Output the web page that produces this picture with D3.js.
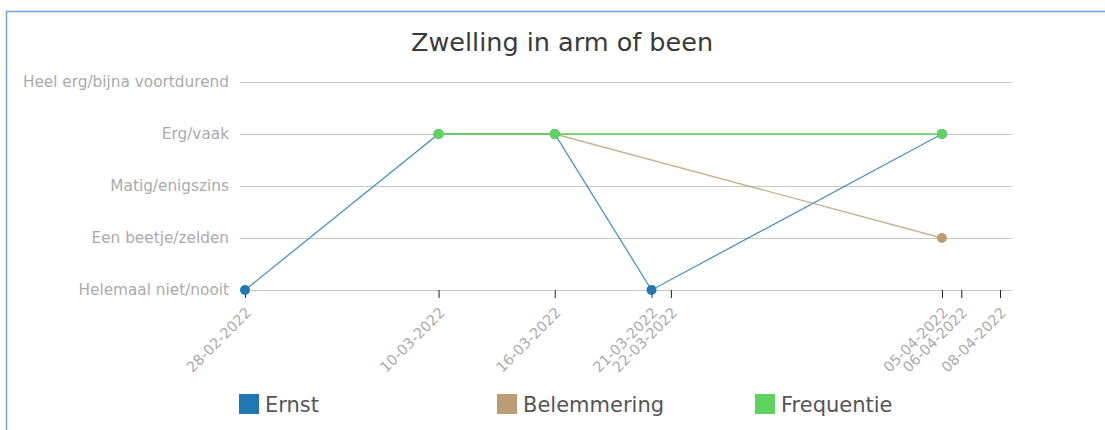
<!DOCTYPE html>
<html>
<head>
<meta charset="utf-8">
<script src="https://cdn.jsdelivr.net/npm/d3@7"></script>
<style>
  body { margin: 0; background: #fff; font-family: "DejaVu Sans", sans-serif; }
  svg { display: block; }
</style>
</head>
<body>
<script>
// data
var levels = ["Helemaal niet/nooit", "Een beetje/zelden", "Matig/enigszins", "Erg/vaak", "Heel erg/bijna voortdurend"];
var tickDates = ["28-02-2022", "10-03-2022", "16-03-2022", "21-03-2022", "22-03-2022", "05-04-2022", "06-04-2022", "08-04-2022"];

var ernstDates = ["28-02-2022", "10-03-2022", "16-03-2022", "21-03-2022", "05-04-2022"];
var ernstValues = ["Helemaal niet/nooit", "Erg/vaak", "Erg/vaak", "Helemaal niet/nooit", "Erg/vaak"];

var belemmeringDates = ["10-03-2022", "16-03-2022", "05-04-2022"];
var belemmeringValues = ["Erg/vaak", "Erg/vaak", "Een beetje/zelden"];

var frequentieDates = ["10-03-2022", "16-03-2022", "05-04-2022"];
var frequentieValues = ["Erg/vaak", "Erg/vaak", "Erg/vaak"];

var seriesNames = ["Ernst", "Belemmering", "Frequentie"];
var seriesColors = ["#1f77b4", "#bc9c74", "#5fd35f"];

var width = 1105, height = 430;
var parse = d3.timeParse("%d-%m-%Y");
var fmt = d3.timeFormat("%d-%m-%Y");

var series = [
  { name: seriesNames[0], dates: ernstDates, values: ernstValues },
  { name: seriesNames[1], dates: belemmeringDates, values: belemmeringValues },
  { name: seriesNames[2], dates: frequentieDates, values: frequentieValues }
].map(function(s) {
  return { name: s.name, points: s.dates.map(function(d, i) { return { date: parse(d), level: s.values[i] }; }) };
});

var svg = d3.select("body").append("svg")
    .attr("width", width)
    .attr("height", height);

// frame
svg.append("path")
    .attr("d", "M6.5," + height + "V11.5H" + width)
    .attr("fill", "none")
    .attr("stroke", "#6ca6d9")
    .attr("stroke-width", 1.5);

var plotLeft = 240, plotRight = 1012;

var x = d3.scaleTime()
    .domain([parse(tickDates[0]), parse(tickDates[tickDates.length - 1])])
    .range([245, 1000]);

var y = d3.scalePoint()
    .domain(levels)
    .range([290, 82]);

var color = d3.scaleOrdinal().domain(seriesNames).range(seriesColors);

// title
svg.append("text")
    .attr("x", 562)
    .attr("y", 51)
    .attr("text-anchor", "middle")
    .style("font-size", "25.5px")
    .style("fill", "#3a3a3a")
    .text("Zwelling in arm of been");

// y axis with grid
var yAxis = svg.append("g")
    .attr("transform", "translate(" + plotLeft + ",0)")
    .call(d3.axisLeft(y).tickSizeInner(-(plotRight - plotLeft)).tickSizeOuter(0).tickPadding(11));
yAxis.select(".domain").remove();
yAxis.selectAll("line").attr("stroke", "#c8c8c8");
yAxis.selectAll("text")
    .style("font-size", "15.3px")
    .style("font-family", "DejaVu Sans, sans-serif")
    .attr("fill", "#ababab");

// x axis
var xAxis = svg.append("g")
    .attr("transform", "translate(0,290)")
    .call(d3.axisBottom(x).tickValues(tickDates.map(parse)).tickFormat(fmt).tickSizeOuter(0).tickSize(8));
xAxis.select(".domain").remove();
xAxis.selectAll("line").attr("stroke", "#222");
xAxis.selectAll("text")
    .attr("text-anchor", "end")
    .attr("x", 0)
    .attr("y", 0)
    .attr("dy", "0.35em")
    .attr("transform", "translate(3,20) rotate(-45)")
    .style("font-size", "14.5px")
    .style("font-family", "DejaVu Sans, sans-serif")
    .attr("fill", "#ababab");

var line = d3.line()
    .x(function(d) { return x(d.date); })
    .y(function(d) { return y(d.level); });

var g = svg.selectAll(".serie")
    .data(series)
    .enter()
    .append("g")
    .attr("class", "serie");

g.append("path")
    .attr("d", function(d) { return line(d.points); })
    .attr("fill", "none")
    .attr("stroke", function(d) { return color(d.name); })
    .attr("stroke-width", function(d, i) { return i == 2 ? 2 : 1.3; })
    .attr("stroke-opacity", 0.8);

g.selectAll("circle")
    .data(function(d) { return d.points.map(function(p) { return { name: d.name, date: p.date, level: p.level }; }); })
    .enter()
    .append("circle")
    .attr("cx", function(d) { return x(d.date); })
    .attr("cy", function(d) { return y(d.level); })
    .attr("r", 5)
    .attr("fill", function(d) { return color(d.name); });

// legend
var legend = svg.selectAll(".legend")
    .data(seriesNames)
    .enter()
    .append("g")
    .attr("class", "legend")
    .attr("transform", function(d, i) { return "translate(" + (239 + i * 258) + ",394)"; });

legend.append("rect")
    .attr("width", 20)
    .attr("height", 20)
    .attr("fill", function(d) { return color(d); });

legend.append("text")
    .attr("x", 26)
    .attr("y", 18)
    .style("font-size", "21px")
    .attr("fill", "#555")
    .text(function(d) { return d; });
</script>
</body>
</html>
